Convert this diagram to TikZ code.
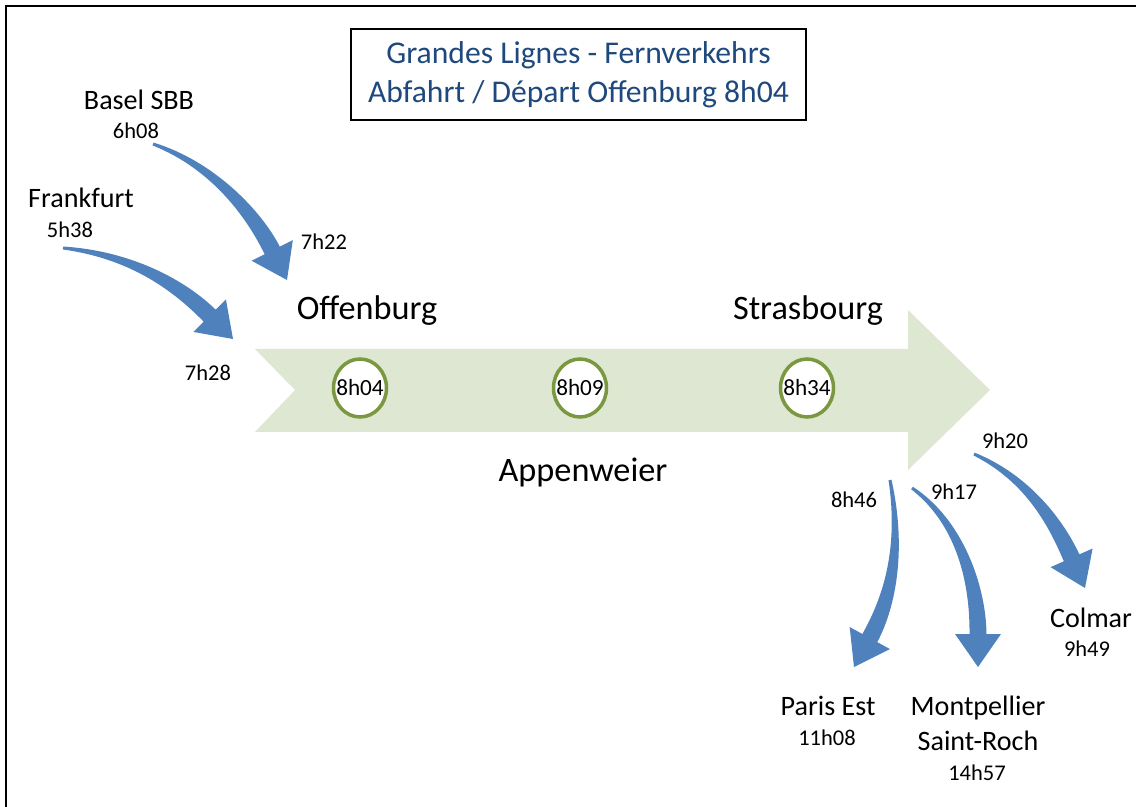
\documentclass[tikz,border=0pt]{standalone}
\usepackage{fontspec}
\setmainfont{Carlito}
\usepackage{tikz}
\usetikzlibrary{calc,shapes.geometric}

\definecolor{trackgreen}{RGB}{221,231,209}
\definecolor{stopgreen}{RGB}{122,152,64}
\definecolor{flowblue}{RGB}{79,129,189}
\definecolor{titleblue}{RGB}{31,73,125}

\tikzset{
  station/.style={anchor=base,font=\fontsize{19.5}{23}\selectfont},
  city/.style={anchor=base,font=\fontsize{16}{20}\selectfont},
  hour/.style={anchor=base,font=\fontsize{12.8}{15}\selectfont},
  stop/.style={ellipse,draw=stopgreen,line width=2pt,fill=white,
    minimum width=1.06cm,minimum height=1.16cm,inner sep=0pt,
    label={[font=\fontsize{13.2}{16}\selectfont]center:#1}},
  titlebox/.style={draw,line width=1.5pt,text=titleblue,align=center,
    minimum width=9.1cm,minimum height=1.82cm,inner sep=0pt,
    font=\fontsize{18}{22.2}\selectfont}
}

% tapered blue arrow: start, control, control, tip
\newcommand\flowarrow[4]{
  \coordinate (hb) at ($(#4)!0.66cm!(#3)$);
  \fill[flowblue]
    ($(#1)!0.03cm!90:(#2)$) .. controls ($(#2)!0.08cm!-90:(#1)$) and ($(#3)!0.16cm!90:(#4)$)
    .. ($(hb)!0.17cm!90:(#4)$) -- ($(hb)!0.46cm!90:(#4)$) -- (#4)
    -- ($(hb)!0.46cm!-90:(#4)$) -- ($(hb)!0.17cm!-90:(#4)$)
    .. controls ($(#3)!0.16cm!-90:(#4)$) and ($(#2)!0.08cm!90:(#1)$)
    .. ($(#1)!0.03cm!-90:(#2)$) -- cycle;
}

\begin{document}
\begin{tikzpicture}[x=0.02cm,y=-0.02cm]
\useasboundingbox (0,0) rectangle (1136,807);
\draw[line width=1.1pt] (1136,6) -- (6,6) -- (6,807);

\node[titlebox] (title) at (578.5,74.5) {Grandes Lignes - Fernverkehrs\\Abfahrt / Départ Offenburg 8h04};

% main line
\fill[trackgreen] (255,349) -- (908,349) -- (908,310) -- (990,390)
  -- (908,470) -- (908,432) -- (255,432) -- (295,390) -- cycle;
\node[stop=8h04] (offstop) at (360,388) {};
\node[stop=8h09] (appstop) at (580,388) {};
\node[stop=8h34] (strastop) at (807,388) {};
\node[station] (offenburg) at (367,320) {Offenburg};
\node[station] (strasbourg) at (808,320) {Strasbourg};
\node[station] (appenweier) at (583,481) {Appenweier};

% arrivals
\node[city] (basel) at (139,110) {Basel SBB};
\node[hour] (baseldep) at (136,139) {6h08};
\node[city] (frankfurt) at (81,208) {Frankfurt};
\node[hour] (frankdep) at (70,238) {5h38};
\node[hour] (baselarr) at (324,250) {7h22};
\node[hour] (frankarr) at (208,381) {7h28};
\coordinate (baselout) at (153,144);
\coordinate (baselin) at (287,280);
\coordinate (frankout) at (63,248);
\coordinate (frankin) at (233,339);
\flowarrow{baselout}{213,165}{254,214}{baselin}
\flowarrow{frankout}{133,255}{181,287}{frankin}

% departures
\node[hour] (parisdep) at (854,507) {8h46};
\node[hour] (montdep) at (954,500) {9h17};
\node[hour] (colmardep) at (1005,448) {9h20};
\node[city] (paris) at (828,715) {Paris Est};
\node[hour] (parisarr) at (827,745) {11h08};
\node[city,anchor=center,align=center,font=\fontsize{16}{19.9}\selectfont] (montpellier) at (978,723) {Montpellier\\Saint-Roch};
\node[hour] (montarr) at (977,780) {14h57};
\node[city] (colmar) at (1091,627) {Colmar};
\node[hour] (colmararr) at (1087,656) {9h49};
\coordinate (parisout) at (890,480);
\coordinate (parisin) at (854,667);
\coordinate (montout) at (912,488);
\coordinate (montin) at (978,667);
\coordinate (colmarout) at (974,454);
\coordinate (colmarin) at (1085,588);
\flowarrow{parisout}{903,550}{889,603}{parisin}
\flowarrow{montout}{960,522}{978,585}{montin}
\flowarrow{colmarout}{1029,479}{1057,525}{colmarin}
\end{tikzpicture}
\end{document}
